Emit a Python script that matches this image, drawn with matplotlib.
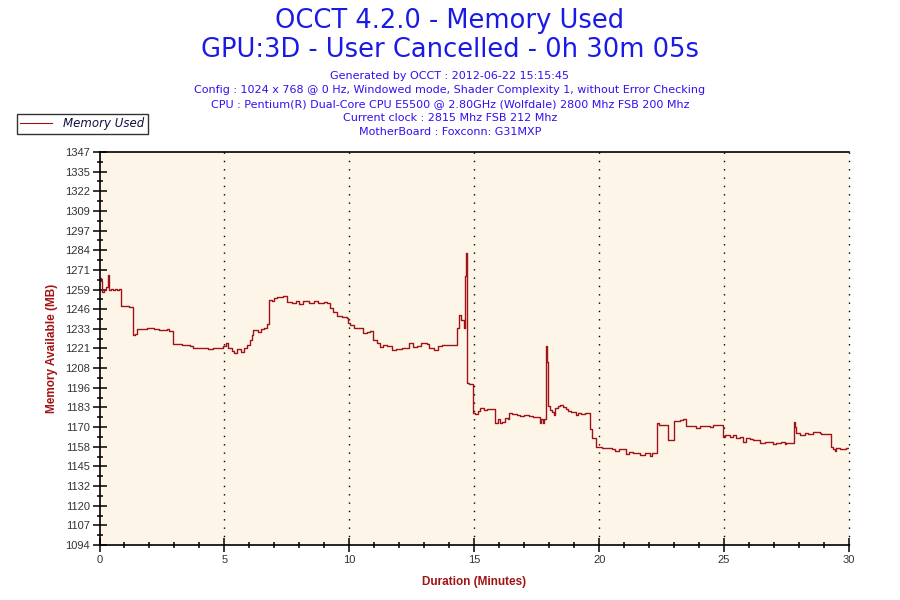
import numpy as np
import matplotlib
matplotlib.use("Agg")
import matplotlib.pyplot as plt
from matplotlib.ticker import FixedLocator, MultipleLocator

# chart data (minutes, MB)
minutes = [0.00, 0.08, 0.12, 0.18, 0.28, 0.33, 0.38, 0.45, 0.55, 0.62, 0.70, 0.78,
           0.86, 1.20, 1.35, 1.42, 1.49, 1.75, 1.90, 2.20, 2.40, 2.70, 2.80,
           2.95, 3.30, 3.45, 3.62, 3.75, 4.00, 4.20, 4.35, 4.55, 4.70,
           4.95, 5.05, 5.15, 5.30, 5.40, 5.50, 5.65, 5.80, 5.89, 6.02, 6.10,
           6.15, 6.35, 6.45, 6.60, 6.72, 6.79, 6.90, 7.00, 7.10, 7.35,
           7.49, 7.70, 7.85, 8.00, 8.15, 8.40, 8.60, 8.75, 9.00, 9.09,
           9.22, 9.35, 9.49, 9.70, 9.89, 9.95, 10.02, 10.20, 10.29, 10.45,
           10.55, 10.70, 10.82, 10.95, 11.10, 11.22, 11.35,
           11.50, 11.70, 11.85, 12.10, 12.40, 12.55, 12.70, 12.85, 13.10, 13.20,
           13.40, 13.55, 13.70, 13.82, 13.95, 14.10,
           14.31, 14.39, 14.45, 14.58, 14.62, 14.66, 14.69, 14.80, 14.95,
           15.05, 15.15, 15.25, 15.40, 15.50, 15.55,
           15.82, 15.95, 16.05, 16.12, 16.25, 16.35, 16.41, 16.50, 16.70, 16.85,
           17.00, 17.20, 17.35, 17.62, 17.69, 17.75, 17.80,
           17.86, 17.90, 17.95, 18.02, 18.12, 18.18, 18.25, 18.35, 18.42, 18.55,
           18.68, 18.75, 18.88, 19.00, 19.06, 19.15, 19.28, 19.42, 19.55,
           19.62, 19.70, 19.86, 20.10, 20.50, 20.62, 20.80,
           21.09, 21.19, 21.35, 21.62, 21.82, 22.02, 22.12,
           22.31, 22.39, 22.75, 22.98, 23.22, 23.35,
           23.46, 23.88, 24.02, 24.42, 24.55,
           24.95, 25.02, 25.22, 25.35, 25.48, 25.62, 25.75, 25.88, 26.02, 26.15,
           26.42, 26.62, 26.95, 27.08, 27.28, 27.42, 27.48,
           27.78, 27.83, 27.88, 28.02, 28.22, 28.35, 28.55, 28.82, 28.88,
           29.26, 29.35, 29.42, 29.48, 29.62, 29.88, 30.00]
memory_used = [1266, 1264, 1257, 1258, 1260, 1268, 1258, 1259, 1258, 1259, 1258, 1259,
               1248, 1247.4, 1229, 1230, 1233, 1233, 1234, 1233, 1232.5, 1233, 1232,
               1223.5, 1223, 1222.5, 1222, 1221, 1220.5, 1221, 1220, 1221, 1220.5,
               1222, 1224, 1221, 1219, 1217.5, 1220, 1218.5, 1221, 1223, 1226, 1229,
               1232.5, 1231, 1233, 1234, 1236, 1252, 1251, 1253, 1253.5, 1254,
               1250.5, 1249.5, 1251, 1249, 1251, 1250, 1251, 1249.5, 1250.5, 1250,
               1246.5, 1244, 1241.5, 1240.5, 1240, 1237, 1235.5, 1234, 1233.5, 1233.5,
               1230.5, 1231, 1231.5, 1226, 1224, 1221.5, 1222.5,
               1222, 1219.5, 1220, 1220.6, 1223.9, 1221.5, 1222, 1224.2, 1223.5, 1220.5,
               1219.5, 1222, 1222.5, 1222.5, 1222.5, 1222.5,
               1233.5, 1242, 1239, 1234, 1267, 1282, 1198, 1197.5, 1179.2,
               1178.5, 1180, 1182, 1181, 1181.4, 1181.4,
               1172.7, 1174.9, 1172.7, 1173.5, 1175.5, 1174.9, 1179.2, 1178.3, 1177.7, 1176.8,
               1177.7, 1176.8, 1176.4, 1172.3, 1174.9, 1172.7, 1175,
               1222, 1212, 1183.5, 1180.9, 1179.9, 1177.7, 1182, 1183.5, 1184.1, 1182.6,
               1181.4, 1180.5, 1179.9, 1179.9, 1177.7, 1178.8, 1178.3, 1178.8, 1179.2,
               1168.5, 1163, 1157, 1156.3, 1155.6, 1154.8, 1155.6,
               1152.6, 1154.1, 1153.5, 1152, 1153, 1151.3, 1153.5,
               1172.3, 1171.2, 1161.6, 1174, 1174.4, 1174.8,
               1170.6, 1169.1, 1170.6, 1169.7, 1171.2,
               1163.8, 1164.9, 1163.3, 1164.9, 1162.7, 1163.8, 1160.4, 1162.7, 1162, 1161.6,
               1159.9, 1160.4, 1158.9, 1159.9, 1160.4, 1158.9, 1159.9,
               1173.3, 1170.2, 1165.9, 1164.9, 1166.3, 1165.5, 1167, 1166.3, 1165.5,
               1157.3, 1155.6, 1154.7, 1156.3, 1155.6, 1156.3, 1156.3]

y_min, y_max = 1094, 1347
y_tick_labels = ["1094", "1107", "1120", "1132", "1145", "1158", "1170", "1183", "1196",
                 "1208", "1221", "1233", "1246", "1259", "1271", "1284", "1297", "1309",
                 "1322", "1335", "1347"]
x_ticks = [0, 5, 10, 15, 20, 25, 30]

title_lines = ["OCCT 4.2.0 - Memory Used", "GPU:3D - User Cancelled - 0h 30m 05s"]
info_lines = ["Generated by OCCT : 2012-06-22 15:15:45",
              "Config : 1024 x 768 @ 0 Hz, Windowed mode, Shader Complexity 1, without Error Checking",
              "CPU : Pentium(R) Dual-Core CPU E5500 @ 2.80GHz (Wolfdale) 2800 Mhz FSB 200 Mhz",
              "Current clock : 2815 Mhz FSB 212 Mhz",
              "MotherBoard : Foxconn: G31MXP"]

line_col = "#a01218"
label_col = "#a01414"

fig = plt.figure(figsize=(9, 6), dpi=100)
ax = fig.add_axes([99.5 / 900, 1 - 545 / 600, (849 - 99.5) / 900, (545 - 152) / 600])
ax.set_facecolor("#fdf6e8")

ax.plot(minutes, memory_used, color=line_col, lw=1.0, drawstyle="steps-post",
        label="Memory Used")

# evenly spaced y ticks across the range, labelled as in the reference
y_ticks = np.linspace(y_min, y_max, len(y_tick_labels))
ax.set_xlim(0, 30)
ax.set_ylim(y_min, y_max)
ax.set_xticks(x_ticks)
ax.xaxis.set_minor_locator(MultipleLocator(1))
ax.set_yticks(y_ticks)
ax.set_yticklabels(y_tick_labels)
ax.yaxis.set_minor_locator(FixedLocator((y_ticks[:-1] + y_ticks[1:]) / 2))

ax.tick_params(which="major", direction="inout", length=10, width=1.1,
               labelsize=8, labelcolor="#333333", pad=2)
ax.tick_params(which="minor", direction="inout", length=5, width=1.1)
for lab in ax.get_xticklabels() + ax.get_yticklabels():
    lab.set_family("Liberation Sans")

ax.spines["right"].set_visible(False)
for s in ["left", "bottom", "top"]:
    ax.spines[s].set_linewidth(1.2)

for xv in x_ticks[1:]:
    ax.axvline(xv, color="black", lw=1.0, linestyle=(0, (1, 5)), zorder=1,
               clip_on=False)

ax.set_xlabel("Duration (Minutes)", color=label_col, fontsize=8.5, fontweight="bold",
              family="Liberation Sans", labelpad=8)
ax.set_ylabel("Memory Available (MB)", color=label_col, fontsize=8.5, fontweight="bold",
              family="Liberation Sans", labelpad=5)

fig.text(0.5, 1 - 21 / 600, title_lines[0], ha="center", va="center",
         fontsize=18.5, color="#1a1ae6")
fig.text(0.5, 1 - 50 / 600, title_lines[1], ha="center", va="center",
         fontsize=18.5, color="#1a1ae6")
for i, line in enumerate(info_lines):
    fig.text(0.5, 1 - (76 + 14 * i) / 600, line, ha="center", va="center",
             fontsize=8, color="#3010f0")

leg = ax.legend(loc="center left", bbox_to_anchor=(11 / 900, 1 - 124 / 600),
                bbox_transform=fig.transFigure, frameon=True, fancybox=False,
                borderpad=0.3, handlelength=2.7, handletextpad=0.9,
                prop={"style": "italic", "size": 8.5})
leg.get_frame().set_edgecolor("black")
leg.get_frame().set_linewidth(1.0)
for t in leg.get_texts():
    t.set_color("#101040")
leg.get_lines()[0].set_linewidth(0.8)

fig.savefig("out.png", dpi=100)
